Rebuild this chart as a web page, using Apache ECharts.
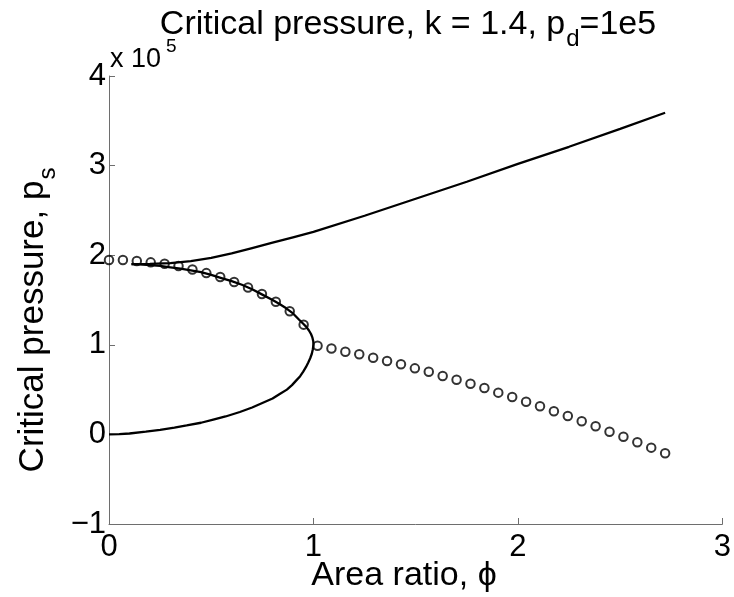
<!DOCTYPE html>
<html><head><meta charset="utf-8">
<script src="https://cdn.jsdelivr.net/npm/echarts@6/dist/echarts.min.js"></script>
<style>html,body{margin:0;padding:0;background:#fff}#c{width:734px;height:597px}</style>
</head><body><div id="c"></div>
<script>
// values in units of 1e5
const circleX = [0,0.068,0.136,0.204,0.272,0.34,0.408,0.476,0.544,0.612,0.68,0.748,0.816,0.884,0.952,1.02,1.088,1.156,1.224,1.292,1.36,1.428,1.496,1.564,1.632,1.7,1.768,1.836,1.904,1.972,2.04,2.108,2.176,2.244,2.312,2.38,2.448,2.516,2.584,2.652,2.72];
const circleY = [1.946,1.946,1.935,1.92,1.905,1.88,1.84,1.80,1.757,1.70,1.64,1.567,1.48,1.374,1.225,0.99,0.958,0.923,0.894,0.856,0.819,0.782,0.737,0.70,0.652,0.61,0.566,0.518,0.466,0.417,0.365,0.314,0.258,0.205,0.146,0.09,0.03,-0.026,-0.088,-0.148,-0.211];
const loopX = [0,0.05,0.1,0.18,0.25,0.32,0.38,0.45,0.51,0.57,0.64,0.7,0.75,0.8,0.835,0.87,0.895,0.915,0.935,0.95,0.963,0.974,0.984,0.992,0.997,1.0,0.999,0.995,0.988,0.978,0.965,0.95,0.93,0.9,0.865,0.83,0.8,0.75,0.7,0.65,0.6,0.55,0.5,0.45,0.4,0.35,0.3,0.25,0.2,0.15,0.11];
const loopY = [0,0.002,0.01,0.03,0.05,0.075,0.1,0.13,0.165,0.2,0.25,0.3,0.35,0.4,0.45,0.5,0.55,0.6,0.65,0.7,0.75,0.8,0.85,0.9,0.95,1.0,1.04,1.08,1.12,1.16,1.2,1.235,1.28,1.35,1.41,1.46,1.50,1.56,1.62,1.67,1.71,1.745,1.78,1.81,1.83,1.85,1.865,1.88,1.89,1.897,1.90];
const upperX = [0.11,0.2,0.3,0.4,0.5,0.6,0.7,0.8,0.9,1.0,1.25,1.5,1.75,2.0,2.25,2.5,2.72];
const upperY = [1.90,1.903,1.912,1.935,1.97,2.02,2.08,2.14,2.20,2.26,2.44,2.63,2.82,3.02,3.21,3.41,3.59];
const xTicks = [0,1,2,3];
const yTicks = [-1,0,1,2,3,4];

const FONT = 'Liberation Sans';
const FS = 31;   // tick labels
const LFS = 34;  // title / axis labels
const SFS = 24;  // subscripts
const zip = (a,b)=>a.map((v,i)=>[v,b[i]]);
const chart = echarts.init(document.getElementById('c'), null, {renderer:'canvas'});
const axisCol = '#6e6e6e';
chart.setOption({
  animation:false,
  backgroundColor:'#fff',
  grid:{left:109,right:10,top:76,bottom:73,containLabel:false},
  xAxis:{
    type:'value',min:xTicks[0],max:xTicks[xTicks.length-1],interval:1,
    axisLine:{show:true,onZero:false,lineStyle:{color:axisCol,width:1}},
    axisTick:{show:true,inside:true,length:6,lineStyle:{color:axisCol}},
    axisLabel:{fontFamily:FONT,fontSize:FS,color:'#000',margin:8,formatter:v=>String(v)},
    splitLine:{show:false}
  },
  yAxis:{
    type:'value',min:yTicks[0],max:yTicks[yTicks.length-1],interval:1,
    axisLine:{show:true,onZero:false,lineStyle:{color:axisCol,width:1}},
    axisTick:{show:true,inside:true,length:6,lineStyle:{color:axisCol}},
    axisLabel:{fontFamily:FONT,fontSize:FS,color:'#000',margin:3,formatter:v=>String(v).replace('-','\u2212')},
    splitLine:{show:false}
  },
  graphic:[
    { // title
      type:'text',x:408,y:8,
      style:{text:'{a|Critical pressure, k = 1.4, p}{s|d}{a|=1e5}',align:'center',verticalAlign:'top',
        rich:{
          a:{fontFamily:FONT,fontSize:LFS,fill:'#000',verticalAlign:'top'},
          s:{fontFamily:FONT,fontSize:SFS,fill:'#000',verticalAlign:'top',padding:[19,0,0,1]}
        }}
    },
    { // x axis label
      type:'text',x:404,y:576,
      style:{text:'Area ratio, ϕ',align:'center',verticalAlign:'middle',
        fontFamily:FONT,fontSize:LFS,fill:'#000'}
    },
    { // y axis label
      type:'text',x:38,y:320,rotation:Math.PI/2,
      style:{text:'{a|Critical pressure, p}{s|s}',align:'center',verticalAlign:'middle',
        rich:{
          a:{fontFamily:FONT,fontSize:LFS+1,fill:'#000',verticalAlign:'top'},
          s:{fontFamily:FONT,fontSize:SFS,fill:'#000',verticalAlign:'top',padding:[20,0,0,1]}
        }}
    },
    { // exponent
      type:'text',x:110,y:37,
      style:{text:'{a|x 10}{s|5}',align:'left',verticalAlign:'top',rich:{
        a:{fontFamily:FONT,fontSize:27,fill:'#000',verticalAlign:'top',padding:[9,0,0,0]},
        s:{fontFamily:FONT,fontSize:19,fill:'#000',verticalAlign:'top',padding:[0,0,0,5]}
      }}
    }
  ],
  series:[
    {type:'line',data:zip(loopX,loopY),showSymbol:false,smooth:false,lineStyle:{color:'#000',width:2.3},z:3},
    {type:'line',data:zip(upperX,upperY),showSymbol:false,smooth:false,lineStyle:{color:'#000',width:2.3},z:3},
    {type:'scatter',data:zip(circleX,circleY),symbol:'circle',symbolSize:8.5,
     itemStyle:{color:'rgba(255,255,255,0)',borderColor:'#000',borderWidth:2},z:4}
  ]
});
</script></body></html>
